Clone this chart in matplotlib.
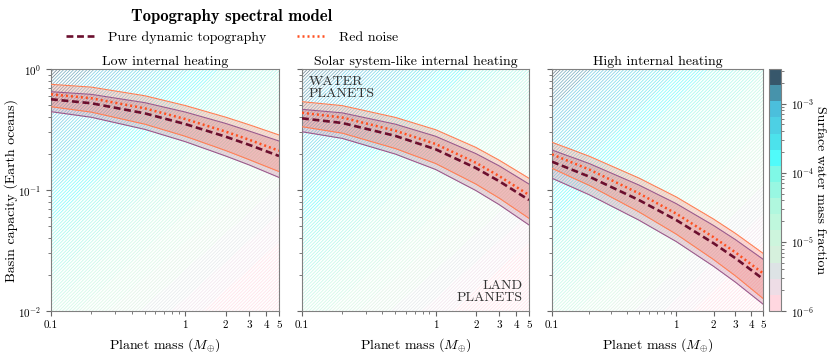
import numpy as np
import matplotlib
matplotlib.use('Agg')
import matplotlib.pyplot as plt
from matplotlib.colors import ListedColormap, LogNorm, to_rgba
from matplotlib.lines import Line2D
from matplotlib.font_manager import FontProperties
import matplotlib.ticker as mticker

plt.rcParams.update({
    'font.family': 'serif',
    'font.serif': ['cmr10'],
    'mathtext.fontset': 'cm',
    'axes.unicode_minus': False,
    'axes.formatter.use_mathtext': True,
    'hatch.linewidth': 0.55,
})

# planet masses (Earth masses) where curves were read
masses = [0.1, 0.2, 0.5, 1, 2, 3, 5]

# Low internal heating
low_dyn = [0.562, 0.521, 0.430, 0.351, 0.276, 0.236, 0.191]
low_dyn_hi = [0.649, 0.617, 0.527, 0.441, 0.355, 0.307, 0.254]
low_dyn_lo = [0.444, 0.399, 0.317, 0.251, 0.191, 0.161, 0.127]
low_rn = [0.618, 0.573, 0.473, 0.386, 0.304, 0.260, 0.211]
low_rn_hi = [0.747, 0.708, 0.601, 0.499, 0.400, 0.346, 0.285]
low_rn_lo = [0.488, 0.440, 0.350, 0.278, 0.212, 0.178, 0.142]

# Solar system-like internal heating
sol_dyn = [0.391, 0.358, 0.280, 0.217, 0.152, 0.118, 0.0827]
sol_dyn_hi = [0.464, 0.434, 0.350, 0.278, 0.200, 0.158, 0.112]
sol_dyn_lo = [0.303, 0.267, 0.198, 0.1477, 0.099, 0.0755, 0.0514]
sol_rn = [0.435, 0.397, 0.309, 0.240, 0.168, 0.130, 0.0909]
sol_rn_hi = [0.537, 0.498, 0.398, 0.315, 0.225, 0.176, 0.125]
sol_rn_lo = [0.3335, 0.295, 0.220, 0.1656, 0.112, 0.0855, 0.0583]

# High internal heating
high_dyn = [0.1714, 0.1288, 0.0827, 0.0565, 0.0363, 0.0273, 0.0184]
high_dyn_hi = [0.214, 0.1653, 0.110, 0.0772, 0.0509, 0.0389, 0.0268]
high_dyn_lo = [0.125, 0.0912, 0.0564, 0.0375, 0.0234, 0.0173, 0.0114]
high_rn = [0.197, 0.1475, 0.0939, 0.0638, 0.0407, 0.0305, 0.0205]
high_rn_hi = [0.248, 0.190, 0.1257, 0.0877, 0.0575, 0.0438, 0.030]
high_rn_lo = [0.151, 0.109, 0.066, 0.0432, 0.0266, 0.0195, 0.0127]

titles = ['Low internal heating', 'Solar system-like internal heating', 'High internal heating']

# Earth ocean mass / Earth mass, used for the background water fraction field
ocean_frac = 2.3e-4
levels = np.logspace(-6, -2.5, 16)
band_colors = ['#ffd7e0', '#eedde6', '#dde3e5', '#d6f0dd', '#cdf5dd',
               '#bff7dd', '#b0f7de', '#98f7e2', '#7ff8e6', '#50fbfa',
               '#4ce2ec', '#4dd0e4', '#4bbfdc', '#4793ab', '#37576b']
cmap = ListedColormap(band_colors)

mg = np.logspace(-1, np.log10(5), 300)
cg = np.logspace(-2, 0, 300)
MM, CC = np.meshgrid(mg, cg)
W = np.clip(CC * ocean_frac / MM, levels[0] * 1.001, levels[-1] * 0.999)

fig = plt.figure(figsize=(8.3, 3.52), dpi=100)
W_px, H_px = 830, 352
boxes = [(51, 228), (302, 227), (552, 211)]
bot, top = 311, 69
axes = [fig.add_axes([l / W_px, 1 - bot / H_px, w / W_px, (bot - top) / H_px]) for l, w in boxes]

panels = [
    (low_dyn, low_dyn_lo, low_dyn_hi, low_rn, low_rn_lo, low_rn_hi),
    (sol_dyn, sol_dyn_lo, sol_dyn_hi, sol_rn, sol_rn_lo, sol_rn_hi),
    (high_dyn, high_dyn_lo, high_dyn_hi, high_rn, high_rn_lo, high_rn_hi),
]

dyn_col = '#6b0f2e'
rn_col = '#ff4f1f'

for i, (ax, p) in enumerate(zip(axes, panels)):
    dyn, dyn_lo, dyn_hi, rn, rn_lo, rn_hi = p
    # hatched background, one band at a time so each gets its own hatch colour
    for k in range(len(band_colors)):
        with plt.rc_context({'hatch.color': to_rgba(band_colors[k], 0.7)}):
            ax.contourf(MM, CC, W, levels=[levels[k], levels[k + 1]],
                        colors='none', hatches=['//////////'], zorder=0)
    ax.fill_between(masses, dyn_lo, dyn_hi, color='#a02050', alpha=0.18, lw=0, zorder=2)
    ax.fill_between(masses, rn_lo, rn_hi, color='#ff5030', alpha=0.2, lw=0, zorder=2)
    for y in (dyn_lo, dyn_hi):
        ax.plot(masses, y, color='#9a5a8c', lw=0.8, zorder=3)
    for y in (rn_lo, rn_hi):
        ax.plot(masses, y, color='#ff7f55', lw=0.8, zorder=3)
    ax.plot(masses, dyn, color=dyn_col, lw=1.9, ls=(0, (2.6, 1.4)), zorder=4)
    ax.plot(masses, rn, color=rn_col, lw=1.8, ls=(0, (0.8, 1.2)), zorder=5)

    ax.set_xscale('log'); ax.set_yscale('log')
    ax.set_xlim(0.1, 5); ax.set_ylim(0.01, 1)
    ax.set_xticks([0.1, 1, 2, 3, 4, 5])
    ax.xaxis.set_major_formatter(mticker.FixedFormatter(['0.1', '1', '2', '3', '4', '5']))
    ax.xaxis.set_minor_formatter(mticker.NullFormatter())
    ax.tick_params(labelsize=8, color='#666666')
    ax.tick_params(which='minor', color='#666666')
    for s in ax.spines.values():
        s.set_color('#808080')
    ax.set_title(titles[i], fontsize=10, pad=3)
    ax.set_xlabel(r'Planet mass ($M_{\oplus}$)', fontsize=10)
    if i > 0:
        ax.yaxis.set_major_formatter(mticker.NullFormatter())
        ax.yaxis.set_minor_formatter(mticker.NullFormatter())

axes[0].set_ylabel('Basin capacity (Earth oceans)', fontsize=10)
axes[0].yaxis.set_label_coords(-0.145, 0.5)
axes[1].text(0.03, 0.97, 'WATER\nPLANETS', transform=axes[1].transAxes, ha='left', va='top',
             fontsize=10, color='#333333', linespacing=0.95, zorder=6)
axes[1].text(0.97, 0.03, 'LAND\nPLANETS', transform=axes[1].transAxes, ha='right', va='bottom',
             fontsize=10, color='#333333', linespacing=0.95, multialignment='right', zorder=6)

# colorbar
cax = fig.add_axes([769 / W_px, 1 - bot / H_px, 12 / W_px, (bot - top) / H_px])
sm = plt.cm.ScalarMappable(norm=LogNorm(levels[0], levels[-1]), cmap=cmap)
cb = fig.colorbar(sm, cax=cax)
cb.outline.set_edgecolor('#808080')
cb.ax.tick_params(labelsize=8, color='#666666')
cb.ax.tick_params(which='minor', color='#666666')
cb.set_label('Surface water mass fraction', rotation=270, labelpad=9, fontsize=10)

handles = [Line2D([], [], color=dyn_col, lw=1.9, ls=(0, (2.6, 1.4))),
           Line2D([], [], color=rn_col, lw=1.8, ls=(0, (0.8, 1.2)))]
fig.legend(handles, ['Pure dynamic topography', 'Red noise'], loc='upper center',
           bbox_to_anchor=(232 / W_px, 1.01), ncol=2, frameon=False, fontsize=10,
           handlelength=2.2, handletextpad=0.8, columnspacing=2.2,
           title='Topography spectral model',
           title_fontproperties=FontProperties(family='cmb10', size=12))

fig.savefig('out.png', dpi=100)
